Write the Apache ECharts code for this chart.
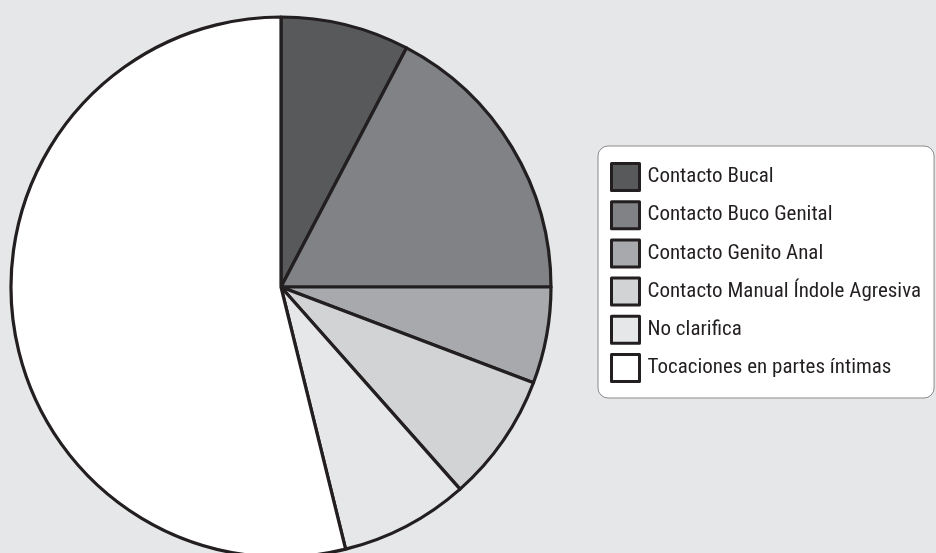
<!DOCTYPE html>
<html>
<head>
<meta charset="utf-8">
<script src="https://cdn.jsdelivr.net/npm/echarts@6/dist/echarts.min.js"></script>
<style>
  html, body { margin: 0; padding: 0; background: #e6e7e8; }
  #chart { width: 936px; height: 553px; }
</style>
</head>
<body>
<div id="chart"></div>
<script>
// Tipos de contacto reportados (número de casos)
const categories = [
  'Contacto Bucal',
  'Contacto Buco Genital',
  'Contacto Genito Anal',
  'Contacto Manual Índole Agresiva',
  'No clarifica',
  'Tocaciones en partes íntimas'
];
const counts = [4, 9, 3, 4, 4, 28];
const sliceColors = ['#58595b', '#808285', '#a7a9ac', '#d1d3d4', '#e6e7e8', '#ffffff'];

const FONT = "'Liberation Sans Narrow', 'Roboto Condensed', 'DejaVu Sans Condensed', sans-serif";

const chart = echarts.init(document.getElementById('chart'), null, { renderer: 'canvas' });

chart.setOption({
  backgroundColor: '#e6e7e8',
  animation: false,
  legend: {
    orient: 'vertical',
    left: 598,
    top: 146,
    icon: 'rect',
    itemWidth: 28,
    itemHeight: 27,
    itemGap: 8.2,
    padding: [16, 13, 15, 12],
    backgroundColor: '#ffffff',
    borderColor: '#8a8a8c',
    borderWidth: 1,
    borderRadius: 10,
    itemStyle: { borderColor: '#231f20', borderWidth: 3 },
    textStyle: {
      fontFamily: FONT,
      fontSize: 21,
      lineHeight: 27,
      color: '#231f20',
      padding: [0, 0, 0, 3]
    },
    data: categories
  },
  series: [{
    type: 'pie',
    center: [281, 287],
    radius: 270,
    startAngle: 90,
    clockwise: true,
    label: { show: false },
    labelLine: { show: false },
    emphasis: { disabled: true },
    itemStyle: { borderColor: '#231f20', borderWidth: 3.2 },
    data: categories.map((name, i) => ({
      name,
      value: counts[i],
      itemStyle: { color: sliceColors[i] }
    }))
  }]
});
</script>
</body>
</html>
